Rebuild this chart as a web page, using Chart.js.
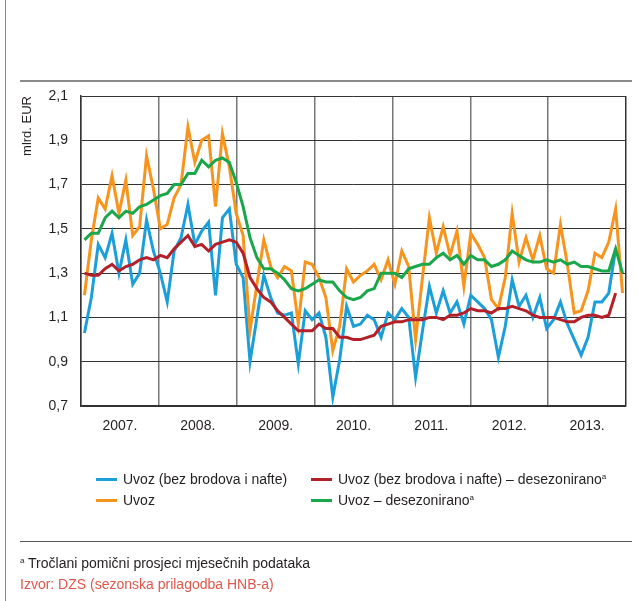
<!DOCTYPE html>
<html>
<head>
<meta charset="utf-8">
<script src="https://cdn.jsdelivr.net/npm/chart.js@4.4.0/dist/chart.umd.min.js"></script>
<style>
  body { margin: 0; background: #fff; }
  #wrap { position: relative; width: 638px; height: 601px; font-family: 'Liberation Sans', Arial, sans-serif; color: #231f20; font-size: 14px; }
  #box { position: absolute; left: 0; top: 0; width: 638px; height: 601px; }
  .rule { position: absolute; background: #8a8a8a; }
  #legend { position: absolute; left: 0; top: 0; }
  .item { position: absolute; display: flex; align-items: center; white-space: nowrap; }
  .item i { display: inline-block; width: 21px; height: 3px; margin-right: 6px; }
  .item sup, .note sup { font-size: 8px; vertical-align: 5px; }
  .note { position: absolute; left: 20px; white-space: nowrap; }
</style>
</head>
<body>
<div id="wrap">
  <div class="rule" style="left:5px;top:0;width:1px;height:601px;"></div>
  <div class="rule" style="left:20px;top:80px;width:612px;height:1.5px;"></div>
  <div class="rule" style="left:20px;top:541px;width:612px;height:1px;background:#555;"></div>
  <div id="box"><canvas id="grafico"></canvas></div>
  <div id="legend"></div>
  <div class="note" style="top:555px;"><sup>a</sup> Tročlani pomični prosjeci mjesečnih podataka</div>
  <div class="note" style="top:576px;color:#e2574c;">Izvor: DZS (sezonska prilagodba HNB-a)</div>
</div>
<script>
// godine i mjeseci (siječanj 2007. - srpanj 2013.)
var godine = [2007, 2008, 2009, 2010, 2011, 2012, 2013];
var mjeseci = ["01", "02", "03", "04", "05", "06", "07", "08", "09", "10", "11", "12"];
var brojMjeseci = 79;

// mlrd. EUR
var uvozBez = [1.03, 1.19, 1.43, 1.37, 1.48, 1.30, 1.45, 1.25, 1.30, 1.54, 1.40, 1.30,
    1.17, 1.40, 1.46, 1.61, 1.43, 1.49, 1.53, 1.20, 1.55, 1.59, 1.34, 1.28,
    0.90, 1.10, 1.29, 1.19, 1.12, 1.11, 1.12, 0.89, 1.13, 1.09, 1.12, 1.01,
    0.74, 0.91, 1.15, 1.06, 1.07, 1.11, 1.09, 1.01, 1.12, 1.09, 1.14, 1.10,
    0.83, 1.04, 1.24, 1.12, 1.22, 1.12, 1.17, 1.07, 1.20, 1.17, 1.14, 1.09,
    0.92, 1.06, 1.27, 1.15, 1.20, 1.10, 1.19, 1.05, 1.09, 1.17, 1.07, 1.00,
    0.93, 1.01, 1.17, 1.17, 1.21, 1.41];
var uvoz = [1.20, 1.45, 1.64, 1.59, 1.74, 1.57, 1.72, 1.47, 1.51, 1.83, 1.68, 1.50,
    1.52, 1.64, 1.70, 1.96, 1.80, 1.90, 1.92, 1.60, 1.93, 1.78, 1.57, 1.47,
    1.04, 1.25, 1.45, 1.33, 1.28, 1.33, 1.31, 1.07, 1.35, 1.34, 1.28, 1.19,
    0.95, 1.06, 1.32, 1.26, 1.29, 1.31, 1.34, 1.27, 1.36, 1.25, 1.40, 1.33,
    1.00, 1.28, 1.55, 1.39, 1.51, 1.38, 1.49, 1.24, 1.48, 1.43, 1.37, 1.18,
    1.14, 1.28, 1.57, 1.35, 1.46, 1.36, 1.47, 1.32, 1.30, 1.52, 1.34, 1.12,
    1.13, 1.22, 1.39, 1.37, 1.44, 1.59, 1.21];
var uvozBezDesez = [1.30, 1.29, 1.29, 1.32, 1.34, 1.31, 1.33, 1.34, 1.36, 1.37, 1.36, 1.38,
    1.37, 1.41, 1.44, 1.47, 1.42, 1.43, 1.40, 1.43, 1.44, 1.45, 1.44, 1.39,
    1.28, 1.23, 1.19, 1.17, 1.13, 1.10, 1.07, 1.04, 1.04, 1.04, 1.07, 1.05,
    1.05, 1.01, 1.01, 1.00, 1.00, 1.01, 1.02, 1.06, 1.07, 1.08, 1.08, 1.09,
    1.09, 1.09, 1.10, 1.10, 1.09, 1.11, 1.11, 1.12, 1.14, 1.13, 1.13, 1.12,
    1.14, 1.14, 1.15, 1.14, 1.13, 1.11, 1.10, 1.10, 1.10, 1.09, 1.08, 1.08,
    1.10, 1.11, 1.11, 1.10, 1.11, 1.21];
var uvozDesez = [1.45, 1.48, 1.48, 1.55, 1.58, 1.55, 1.58, 1.57, 1.60, 1.61, 1.63, 1.65,
    1.66, 1.70, 1.70, 1.75, 1.75, 1.81, 1.78, 1.81, 1.82, 1.80, 1.71, 1.60,
    1.46, 1.37, 1.32, 1.32, 1.30, 1.27, 1.23, 1.22, 1.23, 1.25, 1.27, 1.26,
    1.26, 1.22, 1.19, 1.18, 1.19, 1.22, 1.23, 1.30, 1.30, 1.30, 1.28, 1.32,
    1.33, 1.34, 1.34, 1.37, 1.39, 1.36, 1.38, 1.34, 1.38, 1.36, 1.36, 1.33,
    1.34, 1.36, 1.40, 1.38, 1.36, 1.35, 1.35, 1.36, 1.35, 1.36, 1.34, 1.35,
    1.33, 1.33, 1.32, 1.31, 1.31, 1.41, 1.30];

var osY = [0.7, 2.1, 0.2];

var oznake = [];
godine.forEach(function (g) {
    mjeseci.forEach(function (m) { oznake.push(g + "-" + m); });
});
oznake = oznake.slice(0, brojMjeseci);

function tocke(niz) {
    return niz.map(function (v, i) { return {x: i, y: v}; });
}

// granice godina i sredine (os je podijeljena na 7 jednakih dijelova)
var xMin = -0.5, xMax = brojMjeseci - 0.5;
var sirina = (xMax - xMin) / godine.length;
var xTicks = [];
godine.forEach(function (g, k) {
    xTicks.push({value: xMin + k * sirina});
    xTicks.push({value: xMin + (k + 0.5) * sirina});
});
xTicks.push({value: xMax});

var font = {family: "'Liberation Sans', Arial, sans-serif", size: 14};
Chart.defaults.color = '#231f20';

var ctx = document.getElementById("grafico");

var myLineChart = new Chart(ctx, {
    type: 'line',
    data: {
        labels: oznake,
        datasets: [
            {
                label: 'Uvoz (bez brodova i nafte)',
                data: tocke(uvozBez),
                borderColor: '#1c9fd9',
                order: 3
            },
            {
                label: 'Uvoz (bez brodova i nafte) – desezonirano',
                data: tocke(uvozBezDesez),
                borderColor: '#b3202a',
                order: 1
            },
            {
                label: 'Uvoz',
                data: tocke(uvoz),
                borderColor: '#f7941d',
                order: 2
            },
            {
                label: 'Uvoz – desezonirano',
                data: tocke(uvozDesez),
                borderColor: '#1aa64a',
                order: 0
            }
        ]
    },
    options: {
        responsive: true,
        maintainAspectRatio: false,
        animation: false,
        elements: {
            line: {borderWidth: 3, tension: 0, fill: false},
            point: {radius: 0, hoverRadius: 0}
        },
        layout: {padding: {top: 96, right: 5, bottom: 165, left: 0}},
        plugins: {
            legend: {display: false},
            tooltip: {enabled: false}
        },
        scales: {
            x: {
                type: 'linear',
                min: xMin,
                max: xMax,
                afterBuildTicks: function (s) { s.ticks = xTicks.slice(); },
                afterFit: function (s) { s.height = 30; },
                border: {color: '#333', width: 1.5},
                grid: {
                    drawTicks: false,
                    color: function (c) {
                        if (c.index === xTicks.length - 1) return '#333';
                        return c.index % 2 === 0 ? '#777' : 'rgba(0,0,0,0)';
                    },
                    lineWidth: 1.5
                },
                ticks: {
                    autoSkip: false,
                    maxRotation: 0,
                    padding: 12,
                    font: font,
                    callback: function (v, i) {
                        return i % 2 === 1 ? godine[(i - 1) / 2] + '.' : '';
                    }
                }
            },
            y: {
                min: osY[0],
                max: osY[1],
                afterFit: function (s) { s.width = 81; },
                border: {color: '#333', width: 1.5},
                grid: {drawTicks: false, color: '#333', lineWidth: 1},
                title: {
                    display: true,
                    text: 'mlrd. EUR',
                    align: 'end',
                    font: {family: font.family, size: 13},
                    padding: {top: 20, bottom: 0}
                },
                ticks: {
                    stepSize: osY[2],
                    padding: 13,
                    font: font,
                    callback: function (v) { return v.toFixed(1).replace('.', ','); }
                }
            }
        }
    }
});

// legenda u dva stupca
var legenda = document.getElementById("legend");
var stupci = [96, 311], redovi = [471, 492];
myLineChart.data.datasets.forEach(function (d, i) {
    var el = document.createElement('div');
    el.className = 'item';
    el.style.left = stupci[i % 2] + 'px';
    el.style.top = redovi[Math.floor(i / 2)] + 'px';
    var tekst = d.label + (d.label.indexOf('desezonirano') > -1 ? '<sup>a</sup>' : '');
    el.innerHTML = '<i style="background:' + d.borderColor + '"></i><span>' + tekst + '</span>';
    legenda.appendChild(el);
});
</script>
</body>
</html>
